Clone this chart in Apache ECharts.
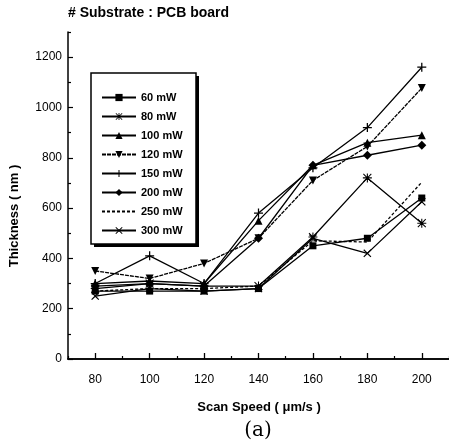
<!DOCTYPE html>
<html><head><meta charset="utf-8">
<script src="https://cdn.jsdelivr.net/npm/echarts@6/dist/echarts.min.js"></script>
<style>html,body{margin:0;padding:0;background:#fff}#c{width:449px;height:445px}</style>
</head><body><div id="c"></div>
<script>
const speeds = [80, 100, 120, 140, 160, 180, 200];
const xTicks = [80, 100, 120, 140, 160, 180, 200];
const xMinorTicks = [70, 90, 110, 130, 150, 170, 190, 210];
const yTicks = [0, 200, 400, 600, 800, 1000, 1200];
const yMinorTicks = [100, 300, 500, 700, 900, 1100, 1300];
const seriesNames = ['60 mW', '80 mW', '100 mW', '120 mW', '150 mW', '200 mW', '250 mW', '300 mW'];
const p60  = [270, 270, 270, 280, 450, 480, 640];
const p80  = [280, 300, 290, 290, 485, 720, 540];
const p100 = [300, 310, 300, 550, 770, 860, 890];
const p120 = [350, 320, 380, 480, 710, 845, 1077];
const p150 = [300, 410, 300, 580, 760, 920, 1160];
const p200 = [290, 300, 290, 480, 770, 810, 850];
const p250 = [270, 280, 280, 290, 470, 465, 703];
const p300 = [250, 280, 270, 280, 480, 420, 625];

const PLUS = 'path://M4.3,0L5.7,0L5.7,4.3L10,4.3L10,5.7L5.7,5.7L5.7,10L4.3,10L4.3,5.7L0,5.7L0,4.3L4.3,4.3Z';
const XSYM = 'path://M1,0L5,4L9,0L10,1L6,5L10,9L9,10L5,6L1,10L0,9L4,5L0,1Z';
const STAR = 'path://M4.4,0L5.6,0L5.6,4.4L10,4.4L10,5.6L5.6,5.6L5.6,10L4.4,10L4.4,5.6L0,5.6L0,4.4L4.4,4.4Z M1,0.2L5,4.2L9,0.2L9.8,1L5.8,5L9.8,9L9,9.8L5,5.8L1,9.8L0.2,9L4.2,5L0.2,1Z';

const styles = [
  {data: p60,  symbol: 'rect', size: 7, type: 'solid'},
  {data: p80,  symbol: STAR, size: 9, type: 'solid'},
  {data: p100, symbol: 'triangle', size: 8, type: 'solid'},
  {data: p120, symbol: 'triangle', size: 8, type: [4,1], rotate: 180},
  {data: p150, symbol: PLUS, size: 9, type: 'solid'},
  {data: p200, symbol: 'diamond', size: 9, type: 'solid'},
  {data: p250, symbol: 'none', size: 0, type: [3,2]},
  {data: p300, symbol: XSYM, size: 8, type: 'solid'}
];

const series = styles.map((s, i) => ({
  name: seriesNames[i],
  type: 'line',
  data: speeds.map((x, j) => [x, s.data[j]]),
  symbol: s.symbol,
  symbolSize: s.size,
  symbolRotate: s.rotate || 0,
  showSymbol: s.symbol !== 'none',
  lineStyle: {color: '#000', width: 1.3, type: s.type},
  itemStyle: {color: '#000'},
  animation: false,
  z: 3
}));

const legendData = seriesNames.map((n, i) => styles[i].symbol === 'none' ? {name: n, itemStyle: {opacity: 0}} : {name: n});

const font = '"Liberation Sans", Arial';
const chart = echarts.init(document.getElementById('c'));
chart.setOption({
  animation: false,
  backgroundColor: '#fff',
  grid: {left: 68, top: 32, width: 381, height: 327, containLabel: false},
  xAxis: [{
    type: 'value', min: 70, max: 210, interval: 10,
    axisLine: {show: true, lineStyle: {color: '#000', width: 1.5}},
    axisTick: {show: true, inside: true, length: 6, lineStyle: {color: '#000', width: 1.3}, customValues: xTicks},
    axisLabel: {customValues: xTicks, color: '#000', fontFamily: font, fontSize: 12, margin: 15},
    splitLine: {show: false}
  }, {
    type: 'value', position: 'top', min: 70, max: 210,
    axisLine: {show: true, lineStyle: {color: '#000', width: 1.5}},
    axisTick: {show: false}, axisLabel: {show: false}, splitLine: {show: false}
  }, {
    type: 'value', position: 'bottom', offset: 0, min: 70, max: 210, interval: 10,
    axisLine: {show: false},
    axisTick: {show: true, inside: true, length: 3, lineStyle: {color: '#000', width: 1.2}, customValues: xMinorTicks},
    axisLabel: {show: false}, splitLine: {show: false}
  }],
  yAxis: [{
    type: 'value', min: 0, max: 1300, interval: 100,
    axisLine: {show: true, lineStyle: {color: '#000', width: 1.5}},
    axisTick: {show: true, inside: true, length: 5, lineStyle: {color: '#000', width: 1.2}, customValues: yTicks},
    axisLabel: {customValues: yTicks, formatter: v => String(v), color: '#000', fontFamily: font, fontSize: 12, margin: 6},
    splitLine: {show: false}
  }, {
    type: 'value', position: 'left', offset: 0, min: 0, max: 1300, interval: 100,
    axisLine: {show: false},
    axisTick: {show: true, inside: true, length: 3, lineStyle: {color: '#000', width: 1.2}, customValues: yMinorTicks},
    axisLabel: {show: false}, splitLine: {show: false}
  }],
  legend: {
    show: true,
    left: 96, top: 87,
    orient: 'vertical',
    itemGap: 8,
    itemWidth: 34, itemHeight: 9,
    data: legendData,
    textStyle: {color: '#000', fontFamily: font, fontSize: 11, fontWeight: 'bold'},
    inactiveColor: '#000',
    z: 10
  },
  graphic: [
    {type: 'rect', shape: {x: 94, y: 76, width: 105, height: 171}, style: {fill: '#000'}, z: 1, silent: true},
    {type: 'rect', shape: {x: 91, y: 73, width: 105, height: 171}, style: {fill: '#fff', stroke: '#000', lineWidth: 1.5}, z: 2, silent: true},
    {type: 'text', left: 68, top: 6, style: {text: '# Substrate : PCB board', font: 'bold 14px "Liberation Sans", Arial', fill: '#000'}, z: 10},
    {type: 'text', x: 14, y: 216, rotation: Math.PI/2, style: {text: 'Thickness ( nm )', font: 'bold 13px "Liberation Sans", Arial', fill: '#000', align: 'center', verticalAlign: 'middle'}, z: 10},
    {type: 'text', x: 259, y: 407, style: {text: 'Scan Speed ( μm/s )', font: 'bold 13px "Liberation Sans", Arial', fill: '#000', align: 'center', verticalAlign: 'middle'}, z: 10},
    {type: 'text', x: 258, y: 431, style: {text: '(a)', font: '20px "DejaVu Serif", "Liberation Serif", serif', fill: '#000', align: 'center', verticalAlign: 'middle'}, z: 10}
  ],
  series: series
});
</script></body></html>
